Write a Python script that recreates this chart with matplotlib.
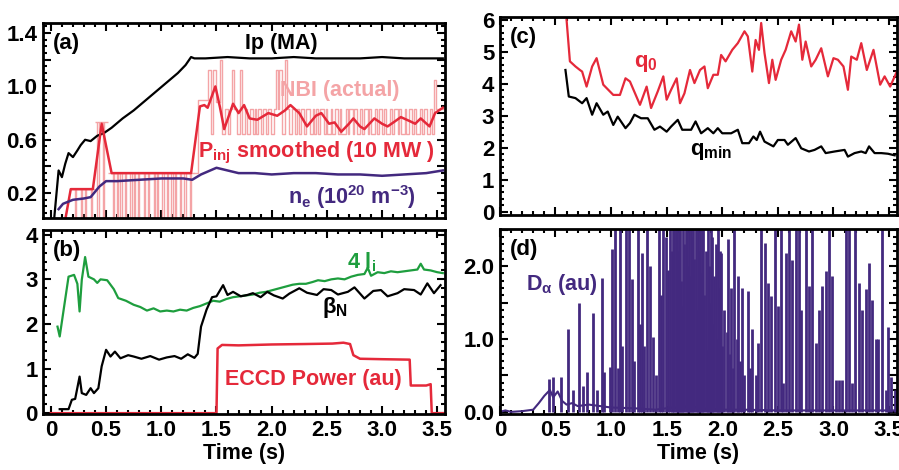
import matplotlib
matplotlib.use('Agg')
import matplotlib.pyplot as plt
import numpy as np
from matplotlib.ticker import MultipleLocator, FixedLocator

plt.rcParams['font.family'] = ['Liberation Sans', 'DejaVu Sans']
plt.rcParams['font.weight'] = 'bold'
plt.rcParams['axes.labelweight'] = 'bold'
plt.rcParams['font.size'] = 15
plt.rcParams['mathtext.fontset'] = 'custom'
plt.rcParams['mathtext.rm'] = 'Liberation Sans:bold'
plt.rcParams['mathtext.bf'] = 'Liberation Sans:bold'
plt.rcParams['mathtext.it'] = 'Liberation Sans:bold'

RED = '#e5293a'
PINK = '#f4a4a6'
PURPLE = '#43297f'
GREEN = '#1e9e3e'
FS = 15.5   # annotation size
TS = 16     # tick label size

# ---- panel (a) ----
ip_t = [0.03, 0.07, 0.10, 0.13, 0.16, 0.20, 0.24, 0.27, 0.31, 0.36, 0.42, 0.48, 0.55, 0.65, 0.75,
        0.85, 0.95, 1.05, 1.15, 1.22, 1.27, 1.30, 1.40, 1.60, 1.80, 2.00, 2.20, 2.40, 2.60, 2.80,
        3.00, 3.20, 3.40, 3.55]
ip_v = [0.01, 0.37, 0.32, 0.42, 0.50, 0.47, 0.52, 0.56, 0.60, 0.59, 0.63, 0.65, 0.69, 0.76, 0.82,
        0.89, 0.96, 1.03, 1.10, 1.16, 1.22, 1.21, 1.21, 1.22, 1.21, 1.21, 1.22, 1.21, 1.21, 1.21,
        1.22, 1.21, 1.21, 1.21]

pinj_t = [0.0, 0.13, 0.18, 0.38, 0.46, 0.55, 0.70, 0.90, 1.10, 1.27, 1.35, 1.39, 1.42, 1.49, 1.53,
          1.57, 1.65, 1.70, 1.75, 1.80, 1.87, 1.97, 2.05, 2.12, 2.17, 2.25, 2.32, 2.40, 2.45, 2.52,
          2.57, 2.63, 2.70, 2.74, 2.80, 2.84, 2.93, 3.00, 3.05, 3.12, 3.17, 3.25, 3.30, 3.35, 3.43,
          3.48, 3.55]
pinj_v = [0.0, 0.0, 0.23, 0.23, 0.72, 0.35, 0.35, 0.35, 0.35, 0.35, 0.85, 0.86, 0.84, 1.00, 0.85,
          0.68, 0.87, 0.80, 0.86, 0.76, 0.75, 0.80, 0.78, 0.82, 0.86, 0.80, 0.70, 0.78, 0.80, 0.72,
          0.73, 0.66, 0.72, 0.76, 0.70, 0.68, 0.76, 0.72, 0.70, 0.74, 0.77, 0.74, 0.72, 0.76, 0.70,
          0.80, 0.84]

ne_t = [0.07, 0.11, 0.20, 0.30, 0.36, 0.44, 0.50, 0.60, 0.80, 1.00, 1.20, 1.28, 1.36, 1.50, 1.60,
        1.70, 1.85, 2.00, 2.20, 2.40, 2.60, 2.80, 3.00, 3.20, 3.40, 3.55]
ne_v = [0.08, 0.12, 0.15, 0.16, 0.17, 0.25, 0.29, 0.29, 0.30, 0.31, 0.31, 0.30, 0.34, 0.39, 0.37,
        0.35, 0.35, 0.34, 0.35, 0.35, 0.34, 0.34, 0.33, 0.34, 0.35, 0.37]

# NBI before 1.3 s: plateau levels with short notches to zero
nbi_seg_start = [0.17, 0.40, 0.52]
nbi_seg_end = [0.40, 0.52, 1.30]
nbi_seg_level = [0.23, 0.73, 0.35]
nbi_notch_t = [0.22, 0.27, 0.31, 0.36, 0.42, 0.47, 0.56, 0.60, 0.63, 0.67, 0.72, 0.75, 0.79, 0.84,
               0.88, 0.93, 0.96, 1.01, 1.05, 1.09, 1.12, 1.17, 1.21, 1.26]
# NBI after 1.3 s: switching steps
nbi_t = [1.30, 1.33, 1.42, 1.45, 1.47, 1.50, 1.53, 1.55, 1.58, 1.60, 1.62, 1.64, 1.66, 1.69, 1.71,
         1.73, 1.76, 1.78, 1.80, 1.83, 1.85, 1.86, 1.88, 1.90, 1.92, 1.95, 1.97, 1.99, 2.02, 2.04,
         2.06, 2.07, 2.09, 2.12, 2.14, 2.16, 2.18, 2.21, 2.23, 2.25, 2.27, 2.29, 2.31, 2.35, 2.37,
         2.38, 2.40, 2.42, 2.44, 2.47, 2.49, 2.50, 2.54, 2.55, 2.57, 2.60, 2.62, 2.63, 2.67, 2.69,
         2.70, 2.74, 2.75, 2.77, 2.80, 2.82, 2.84, 2.87, 2.88, 2.90, 2.94, 2.95, 2.97, 3.00, 3.02,
         3.04, 3.07, 3.09, 3.11, 3.14, 3.15, 3.17, 3.21, 3.22, 3.24, 3.27, 3.29, 3.31, 3.34, 3.36,
         3.38, 3.41, 3.43, 3.45, 3.47, 3.49, 3.55]
nbi_v = [0.35, 0.90, 1.12, 0.64, 1.12, 0.88, 1.20, 0.64, 0.83, 0.64, 0.83, 1.12, 0.83, 0.64, 1.12,
         0.64, 0.83, 0.64, 0.83, 0.64, 0.83, 0.64, 0.83, 0.64, 0.83, 0.64, 0.83, 0.64, 0.83, 1.12,
         0.83, 1.12, 0.64, 1.20, 0.83, 0.64, 0.83, 0.64, 0.83, 0.64, 0.83, 0.64, 0.83, 0.64, 0.83,
         0.64, 0.83, 0.64, 0.83, 0.64, 0.83, 0.64, 0.83, 0.64, 0.83, 0.64, 0.83, 0.64, 0.83, 0.64,
         0.83, 0.64, 0.83, 0.64, 0.83, 0.64, 0.83, 0.64, 0.83, 0.64, 0.83, 0.64, 0.83, 0.64, 0.83,
         0.64, 0.83, 0.64, 0.83, 0.64, 0.83, 0.64, 0.83, 0.64, 0.83, 0.64, 0.83, 0.64, 0.83, 0.64,
         0.83, 0.64, 0.83, 0.64, 1.05, 0.83, 0.83]

# ---- panel (b) ----
li_t = [0.06, 0.08, 0.12, 0.16, 0.21, 0.24, 0.26, 0.28, 0.31, 0.34, 0.39, 0.42, 0.45, 0.51, 0.57,
        0.61, 0.68, 0.75, 0.81, 0.87, 0.93, 0.99, 1.05, 1.11, 1.17, 1.23, 1.29, 1.35, 1.41, 1.47,
        1.53, 1.59, 1.65, 1.71, 1.77, 1.83, 1.89, 1.95, 2.01, 2.07, 2.13, 2.19, 2.25, 2.31, 2.37,
        2.42, 2.48, 2.54, 2.60, 2.66, 2.72, 2.78, 2.84, 2.87, 2.90, 2.96, 3.02, 3.08, 3.14, 3.20,
        3.26, 3.32, 3.35, 3.38, 3.44, 3.50, 3.55]
li_v = [1.94, 1.72, 2.39, 3.06, 3.10, 2.90, 2.28, 2.99, 3.50, 3.06, 3.00, 2.92, 3.00, 2.98, 2.78,
        2.58, 2.52, 2.43, 2.38, 2.30, 2.35, 2.28, 2.30, 2.28, 2.32, 2.30, 2.36, 2.40, 2.46, 2.52,
        2.50, 2.56, 2.60, 2.62, 2.64, 2.66, 2.70, 2.72, 2.76, 2.80, 2.84, 2.88, 2.90, 2.90, 2.94,
        2.98, 2.96, 3.00, 3.02, 3.00, 3.06, 3.10, 3.12, 3.26, 3.08, 3.16, 3.14, 3.18, 3.16, 3.18,
        3.20, 3.22, 3.35, 3.22, 3.20, 3.16, 3.14]

bn_t = [0.08, 0.16, 0.19, 0.22, 0.26, 0.28, 0.32, 0.36, 0.39, 0.43, 0.46, 0.50, 0.54, 0.58, 0.63,
        0.70, 0.75, 0.82, 0.90, 0.98, 1.05, 1.12, 1.18, 1.24, 1.30, 1.33, 1.36, 1.41, 1.46, 1.50,
        1.56, 1.60, 1.65, 1.72, 1.78, 1.83, 1.90, 1.96, 2.02, 2.10, 2.16, 2.25, 2.32, 2.41, 2.47,
        2.54, 2.60, 2.69, 2.75, 2.84, 2.92, 2.99, 3.05, 3.14, 3.20, 3.29, 3.35, 3.41, 3.47, 3.53]
bn_v = [0.09, 0.09, 0.30, 0.32, 0.82, 0.45, 0.41, 0.56, 0.45, 0.56, 1.05, 1.42, 1.27, 1.38, 1.23,
        1.30, 1.27, 1.22, 1.28, 1.20, 1.25, 1.28, 1.22, 1.32, 1.24, 1.33, 1.94, 2.32, 2.60, 2.62,
        2.87, 2.65, 2.72, 2.62, 2.65, 2.69, 2.60, 2.72, 2.64, 2.57, 2.68, 2.80, 2.70, 2.65, 2.78,
        2.76, 2.66, 2.72, 2.82, 2.57, 2.74, 2.76, 2.62, 2.69, 2.78, 2.76, 2.66, 2.91, 2.69, 2.87]

ec_t = [0.0, 1.50, 1.51, 1.55, 1.70, 2.00, 2.30, 2.55, 2.65, 2.71, 2.74, 2.80, 3.00, 3.25, 3.26,
        3.40, 3.44, 3.45, 3.57]
ec_v = [0.0, 0.0, 1.45, 1.53, 1.52, 1.54, 1.55, 1.56, 1.58, 1.55, 1.30, 1.22, 1.21, 1.20, 0.62,
        0.62, 0.65, 0.0, 0.0]

# ---- panel (c) ----
q0_t = [0.60, 0.63, 0.68, 0.72, 0.74, 0.78, 0.83, 0.87, 0.93, 1.02, 1.08, 1.13, 1.17, 1.26, 1.32,
        1.36, 1.42, 1.47, 1.50, 1.54, 1.59, 1.62, 1.66, 1.71, 1.75, 1.80, 1.84, 1.87, 1.92, 1.96,
        1.99, 2.03, 2.09, 2.14, 2.20, 2.23, 2.27, 2.30, 2.33, 2.35, 2.38, 2.42, 2.45, 2.48, 2.53,
        2.57, 2.62, 2.66, 2.69, 2.72, 2.75, 2.80, 2.84, 2.89, 2.95, 3.00, 3.04, 3.09, 3.13, 3.16,
        3.21, 3.25, 3.30, 3.36, 3.42, 3.46, 3.51, 3.57]
q0_v = [6.0, 4.70, 4.54, 4.43, 4.38, 3.91, 4.54, 4.80, 3.97, 3.65, 3.65, 4.17, 4.07, 3.34, 3.91,
        3.24, 3.76, 4.23, 3.50, 3.81, 4.17, 3.39, 3.70, 4.43, 4.02, 4.43, 4.54, 3.86, 4.28, 4.28,
        4.90, 4.70, 5.06, 5.27, 5.64, 5.48, 4.38, 5.37, 5.06, 5.90, 4.96, 4.02, 4.75, 4.12, 4.75,
        5.06, 5.64, 5.32, 5.85, 4.75, 5.32, 4.54, 4.75, 5.11, 4.23, 4.80, 4.75, 4.54, 3.81, 4.85,
        4.75, 5.27, 4.43, 5.06, 3.97, 4.23, 3.91, 4.38]

qmin_t = [0.59, 0.62, 0.68, 0.74, 0.78, 0.83, 0.87, 0.93, 0.97, 1.02, 1.06, 1.13, 1.17, 1.21, 1.27,
          1.33, 1.39, 1.44, 1.50, 1.54, 1.60, 1.64, 1.72, 1.76, 1.81, 1.87, 1.92, 1.96, 2.00, 2.08,
          2.14, 2.18, 2.24, 2.28, 2.31, 2.34, 2.38, 2.46, 2.50, 2.56, 2.59, 2.66, 2.71, 2.78, 2.83,
          2.89, 2.93, 3.01, 3.10, 3.13, 3.19, 3.25, 3.29, 3.32, 3.37, 3.43, 3.49, 3.55]
qmin_v = [4.43, 3.60, 3.55, 3.39, 3.55, 3.03, 3.39, 3.03, 3.13, 2.71, 2.97, 2.61, 2.77, 3.03, 2.92,
          2.92, 2.56, 2.66, 2.50, 2.66, 2.87, 2.56, 2.56, 2.82, 2.45, 2.61, 2.45, 2.61, 2.45, 2.45,
          2.56, 2.14, 2.14, 2.35, 2.24, 2.50, 2.19, 2.04, 2.24, 2.24, 2.09, 2.30, 1.98, 1.88, 1.93,
          2.04, 1.83, 1.88, 1.93, 1.72, 1.83, 1.88, 1.83, 2.04, 1.83, 1.83, 1.81, 1.76]

# ---- panel (d) ----
da_t = [0.0, 0.05, 0.10, 0.20, 0.30, 0.35, 0.40, 0.45, 0.48, 0.52, 0.56, 0.60, 0.65, 0.70, 0.80,
        0.90, 1.00, 1.20, 1.40, 1.50, 1.60, 1.63, 1.66, 1.70, 1.80, 2.00, 2.20, 2.50, 3.00, 3.50, 3.57]
da_v = [0.0, 0.02, 0.0, 0.01, 0.03, 0.12, 0.22, 0.30, 0.20, 0.28, 0.15, 0.10, 0.12, 0.08, 0.10,
        0.08, 0.06, 0.05, 0.03, 0.05, 0.06, 0.12, 0.06, 0.08, 0.05, 0.03, 0.03, 0.02, 0.02, 0.02, 0.02]
# ELM spikes (heights above 2.5 are off scale)
spk_t = [0.44, 0.48, 0.55, 0.61, 0.66, 0.71, 0.75, 0.78, 0.84, 0.87, 0.92, 0.94, 0.99, 1.01, 1.04,
         1.06, 1.08, 1.10, 1.13, 1.16, 1.19, 1.21, 1.24, 1.26, 1.28, 1.30, 1.32, 1.35, 1.38, 1.40,
         1.43, 1.45, 1.47, 1.49, 1.51, 1.53, 1.55, 1.56, 1.57, 1.58, 1.59, 1.60, 1.61, 1.62, 1.63,
         1.64, 1.65, 1.66, 1.67, 1.68, 1.69, 1.70, 1.71, 1.72, 1.73, 1.74, 1.75, 1.76, 1.77, 1.78,
         1.79, 1.80, 1.81, 1.82, 1.83, 1.84, 1.85, 1.86, 1.87, 1.88, 1.89, 1.90, 1.91, 1.92, 1.93,
         1.94, 1.95, 1.96, 1.97, 1.98, 1.99, 2.00, 2.02, 2.04, 2.05, 2.07, 2.08, 2.10, 2.11, 2.13,
         2.14, 2.16, 2.18, 2.20, 2.23, 2.25, 2.27, 2.30, 2.32, 2.35, 2.38, 2.41, 2.44, 2.47, 2.50,
         2.53, 2.55, 2.57, 2.60, 2.63, 2.66, 2.69, 2.71, 2.75, 2.78, 2.81, 2.84, 2.87, 2.90, 2.93,
         2.96, 2.99, 3.02, 3.05, 3.08, 3.11, 3.14, 3.17, 3.19, 3.23, 3.26, 3.29, 3.32, 3.35, 3.38,
         3.40, 3.44, 3.47, 3.49, 3.52, 3.55]
spk_h = [0.45, 0.48, 0.48, 1.13, 0.30, 1.50, 0.35, 0.55, 1.36, 0.30, 1.84, 0.55, 0.62, 2.23, 3.0,
         0.60, 3.0, 0.90, 3.0, 3.0, 1.82, 0.70, 3.0, 1.20, 2.18, 0.90, 3.0, 2.00, 1.03, 0.50,
         3.0, 1.60, 3.0, 2.40, 1.95, 3.0, 2.20, 3.0, 2.50, 3.0, 3.0, 2.20, 3.0, 2.60, 1.80,
         1.45, 3.0, 2.30, 3.0, 2.50, 2.00, 3.0, 1.86, 3.0, 2.40, 3.0, 2.10, 2.60, 1.40, 3.0,
         2.20, 3.0, 1.90, 2.50, 3.0, 1.60, 2.20, 0.85, 3.0, 2.00, 1.50, 3.0, 2.40, 1.20, 1.86,
         2.30, 1.00, 3.0, 1.70, 2.20, 2.18, 0.90, 1.40, 1.10, 2.37, 0.80, 1.70, 0.60, 3.0, 1.00,
         1.86, 0.70, 1.70, 0.50, 1.66, 0.60, 1.13, 0.50, 0.94, 3.0, 2.32, 1.77, 1.59, 3.0, 1.45,
         3.0, 0.40, 2.18, 3.0, 2.09, 3.0, 3.0, 1.40, 3.0, 1.72, 3.0, 0.94, 1.40, 1.72, 1.93,
         3.0, 1.86, 0.44, 0.44, 0.44, 3.0, 3.0, 0.40, 3.0, 1.77, 1.40, 1.68, 2.04, 1.54, 1.00,
         1.00, 3.0, 0.30, 1.17, 0.48, 0.30]


def style_axes(ax, ymajor, yminor, xlim, ylim):
    ax.set_xlim(*xlim)
    ax.set_ylim(*ylim)
    ax.xaxis.set_major_locator(MultipleLocator(0.5))
    ax.xaxis.set_minor_locator(MultipleLocator(0.1))
    ax.yaxis.set_major_locator(FixedLocator(ymajor))
    ax.yaxis.set_minor_locator(MultipleLocator(yminor))
    ax.tick_params(which='both', direction='in', top=True, right=True, width=1.5)
    ax.tick_params(which='major', length=6, labelsize=TS, pad=4)
    ax.tick_params(which='minor', length=3)
    for sp in ax.spines.values():
        sp.set_linewidth(2)


def bold_ticks(ax):
    for lab in ax.get_xticklabels() + ax.get_yticklabels():
        lab.set_fontweight('bold')


fig = plt.figure(figsize=(8.99, 4.70), dpi=100)
ax_a = fig.add_axes([0.048, 0.536, 0.447, 0.415])
ax_b = fig.add_axes([0.048, 0.119, 0.447, 0.392])
ax_c = fig.add_axes([0.556, 0.543, 0.4416, 0.421])
ax_d = fig.add_axes([0.556, 0.119, 0.4416, 0.394])

# (a)
ax_a.hlines(nbi_seg_level, nbi_seg_start, nbi_seg_end, color=PINK, lw=1)
for tn in nbi_notch_t:
    lev = [l for s, e, l in zip(nbi_seg_start, nbi_seg_end, nbi_seg_level) if s <= tn < e][0]
    ax_a.vlines([tn, tn + 0.012], 0, lev, color=PINK, lw=1)
    ax_a.hlines(0.01, tn, tn + 0.012, color=PINK, lw=1)
ax_a.plot(nbi_t, nbi_v, drawstyle='steps-post', color=PINK, lw=1)
ax_a.plot(ip_t, ip_v, color='black', lw=1.6)
ax_a.plot(pinj_t, pinj_v, color=RED, lw=1.8)
ax_a.plot(ne_t, ne_v, color=PURPLE, lw=1.8)
style_axes(ax_a, [0.2, 0.4, 0.6, 0.8, 1.0, 1.2, 1.4], 0.05, (-0.07, 3.57), (0.013, 1.475))
ax_a.set_yticklabels(['0.2', '', '0.6', '', '1.0', '', '1.4'])
ax_a.set_xticklabels([])
bold_ticks(ax_a)
ax_a.text(0.025, 0.895, '(a)', transform=ax_a.transAxes, fontsize=16, va='center')
ax_a.text(2.09, 1.32, 'Ip (MA)', ha='center', va='center', fontsize=FS)
ax_a.text(2.62, 0.97, 'NBI (actual)', ha='center', va='center', fontsize=FS, color=PINK)
ax_a.text(1.33, 0.50, r'P$_{\mathrm{inj}}$ smoothed (10 MW )', ha='left', va='center',
          fontsize=FS, color=RED)
ax_a.text(2.15, 0.17, r'n$_{\mathrm{e}}$ (10$^{\mathrm{20}}$ m$^{\mathrm{-3}}$)', ha='left',
          va='center', fontsize=FS, color=PURPLE)

# (b)
ax_b.plot(li_t, li_v, color=GREEN, lw=1.6)
ax_b.plot(bn_t, bn_v, color='black', lw=1.6)
ax_b.plot(ec_t, ec_v, color=RED, lw=1.8)
style_axes(ax_b, [0, 1, 2, 3, 4], 0.2, (-0.07, 3.57), (-0.02, 4.11))
ax_b.set_xticks([0, 0.5, 1.0, 1.5, 2.0, 2.5, 3.0, 3.5])
ax_b.set_xticklabels(['0', '0.5', '1.0', '1.5', '2.0', '2.5', '3.0', '3.5'])
bold_ticks(ax_b)
ax_b.set_xlabel('Time (s)', fontsize=FS, fontweight='bold', labelpad=2)
ax_b.text(0.025, 0.89, '(b)', transform=ax_b.transAxes, fontsize=16, va='center')
ax_b.text(2.81, 3.39, r'4 l$_{\mathrm{i}}$', ha='center', va='center', fontsize=FS, color=GREEN)
ax_b.text(2.57, 2.36, r'$\beta_{\mathrm{N}}$', ha='center', va='center', fontsize=16)
ax_b.text(2.38, 0.75, 'ECCD Power (au)', ha='center', va='center', fontsize=FS, color=RED)

# (c)
ax_c.plot(q0_t, q0_v, color=RED, lw=1.6)
ax_c.plot(qmin_t, qmin_v, color='black', lw=1.6)
style_axes(ax_c, [0, 1, 2, 3, 4, 5, 6], 0.2, (0, 3.57), (-0.1, 6.09))
ax_c.set_xticklabels([])
bold_ticks(ax_c)
ax_c.text(0.025, 0.895, '(c)', transform=ax_c.transAxes, fontsize=16, va='center')
ax_c.text(1.31, 4.62, r'q$_{\mathrm{0}}$', ha='center', va='center', fontsize=16, color=RED)
ax_c.text(1.90, 1.87, r'q$_{\mathrm{min}}$', ha='center', va='center', fontsize=16)

# (d)
ax_d.vlines(spk_t, 0, spk_h, color=PURPLE, lw=2.0)
ax_d.plot(da_t, da_v, color=PURPLE, lw=1.5)
style_axes(ax_d, [0, 0.5, 1.0, 1.5, 2.0, 2.5], 0.1, (0, 3.57), (-0.03, 2.51))
ax_d.set_yticklabels(['0.0', '', '1.0', '', '2.0', ''])
ax_d.set_xticks([0, 0.5, 1.0, 1.5, 2.0, 2.5, 3.0, 3.5])
ax_d.set_xticklabels(['0', '0.5', '1.0', '1.5', '2.0', '2.5', '3.0', '3.5'])
bold_ticks(ax_d)
ax_d.set_xlabel('Time (s)', fontsize=FS, fontweight='bold', labelpad=2)
ax_d.text(0.025, 0.89, '(d)', transform=ax_d.transAxes, fontsize=16, va='center')
ax_d.text(0.56, 1.75, r'D$_{\alpha}$ (au)', ha='center', va='center', fontsize=FS, color=PURPLE)

fig.savefig('out.png', dpi=100)
